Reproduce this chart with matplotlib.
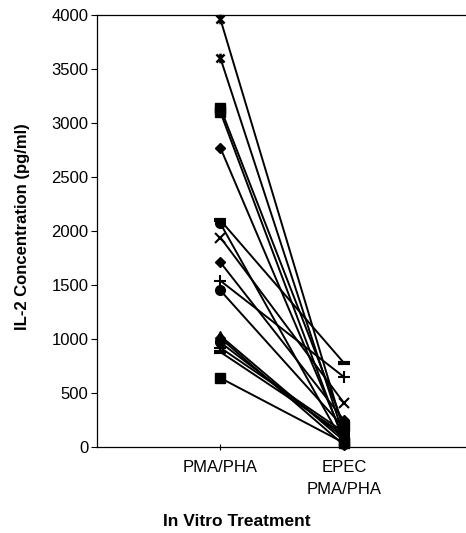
import matplotlib.pyplot as plt
from matplotlib.path import Path

plt.rcParams['font.family'] = ['Liberation Sans', 'DejaVu Sans']

treatments = ['PMA/PHA', 'EPEC\nPMA/PHA']

# IL-2 per donor: unstimulated-EPEC vs EPEC-infected
pma_pha = [3960, 3600, 3140, 3100, 2770, 2100, 2070, 1940, 1710,
           1540, 1450, 1030, 1010, 970, 920, 880, 640]
epec_pma_pha = [150, 100, 200, 50, 80, 780, 30, 410, 250,
                650, 180, 60, 20, 90, 140, 120, 40]
markers = ['star', 'star', 's', 's', 'D', '_', 'o', 'x', 'D',
           '+', 'o', '^', 'D', 'o', '+', '_', 's']

# asterisk marker: an x with a vertical bar through it
star = Path([(-1, -1), (1, 1), (-1, 1), (1, -1), (0, -1.2), (0, 1.2)],
            [Path.MOVETO, Path.LINETO, Path.MOVETO, Path.LINETO,
             Path.MOVETO, Path.LINETO])

style = {
    'star': dict(marker=star, ms=7, mew=1.8),
    's': dict(marker='s', ms=7, mew=1),
    'D': dict(marker='D', ms=5, mew=1),
    '_': dict(marker='_', ms=9, mew=3),
    'o': dict(marker='o', ms=7, mew=1),
    'x': dict(marker='x', ms=7, mew=1.5),
    '+': dict(marker='+', ms=9, mew=1.5),
    '^': dict(marker='^', ms=7, mew=1),
}

fig = plt.figure(figsize=(4.66, 5.33), dpi=100)
ax = fig.add_axes([0.208, 0.161, 0.795, 0.811])

for pre, post, m in zip(pma_pha, epec_pma_pha, markers):
    ax.plot([1, 2], [pre, post], color='black', lw=1.4,
            mfc='black', mec='black', clip_on=False, **style[m])

ax.set_xlim(0, 3)
ax.set_ylim(0, 4000)
ax.set_yticks(range(0, 4001, 500))
ax.set_xticks([1, 2])
ax.set_xticklabels(treatments, fontsize=12, linespacing=1.6)
ax.tick_params(axis='y', labelsize=12, length=4, width=0.8, direction='out', pad=2)
ax.tick_params(axis='x', length=4, width=0.8, direction='inout', pad=7)

for side in ['left', 'top', 'bottom']:
    ax.spines[side].set_linewidth(0.9)
ax.spines['right'].set_visible(False)

ax.set_ylabel('IL-2 Concentration (pg/ml)', fontsize=12, fontweight='bold')
ax.set_xlabel('In Vitro Treatment', fontsize=12.5, fontweight='bold')
ax.yaxis.set_label_coords(-0.18, 0.51)
ax.xaxis.set_label_coords(0.378, -0.155)

fig.savefig('out.png', dpi=100)
